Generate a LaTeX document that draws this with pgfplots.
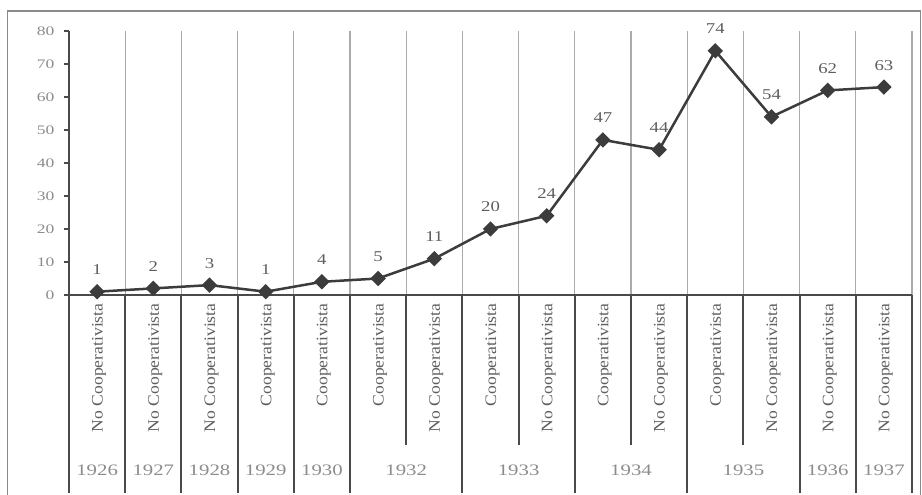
\documentclass[border=0pt]{standalone}
\usepackage{pgfplots}
\pgfplotsset{compat=1.18}
\usepackage{fontspec}
\setmainfont{Liberation Serif}
\newfontfamily\tickf[FakeStretch=1.35]{Liberation Serif}
\newfontfamily\valf[FakeStretch=1.25]{Liberation Serif}
\newfontfamily\catf[FakeStretch=1.1]{Liberation Serif}
\newfontfamily\yearf[FakeStretch=1.3]{Liberation Serif}

\definecolor{lineg}{HTML}{3C3C3C}
\definecolor{darkl}{HTML}{4A4A4A}
\definecolor{gridc}{HTML}{ABABAB}
\definecolor{framec}{HTML}{8A8A8A}
\definecolor{tickc}{HTML}{8C8C8C}
\definecolor{labc}{HTML}{5E5E5E}

\begin{document}
\begin{tikzpicture}[x=1pt,y=1pt]
\useasboundingbox (0,0) rectangle (922,495);
\draw[framec, line width=1.5pt] (7.5,-10) rectangle (920.5,484);
\begin{axis}[
  at={(69pt,200pt)}, anchor=south west,
  scale only axis, width=843pt, height=264pt,
  xmin=-0.5, xmax=14.5, ymin=0, ymax=80,
  /pgf/number format/assume math mode=true,
  axis lines*=left,
  axis line style={darkl, line width=2pt},
  clip=false,
  xtick={0,...,14},
  xticklabels={No Cooperativista,No Cooperativista,No Cooperativista,Cooperativista,Cooperativista,Cooperativista,No Cooperativista,Cooperativista,No Cooperativista,Cooperativista,No Cooperativista,Cooperativista,No Cooperativista,No Cooperativista,No Cooperativista},
  xticklabel style={rotate=90, anchor=east, font=\catf\fontsize{16}{18}\selectfont, text=labc, yshift=-2pt},
  x tick style={draw=none},
  minor xtick={0.5,1.5,...,13.5,14.5},
  xminorgrids,
  minor x grid style={gridc, line width=1.3pt},
  minor x tick style={draw=none},
  ytick={0,10,...,80},
  tick align=outside,
  major tick length=5pt,
  y tick style={darkl, line width=1.5pt},
  yticklabel style={font=\tickf\fontsize{13}{15}\selectfont, text=tickc, xshift=-6pt},
]
\addplot[lineg, line width=2.5pt, mark=square*, mark size=4.2pt,
  mark options={rotate=45, solid},
  nodes near coords,
  every node near coord/.append style={anchor=base, inner sep=0pt, yshift=17pt,
    font=\valf\fontsize{15}{17}\selectfont, text=labc}]
coordinates {(0,1) (1,2) (2,3) (3,1) (4,4) (5,5) (6,11) (7,20) (8,24) (9,47) (10,44) (11,74) (12,54) (13,62) (14,63)};
\draw[darkl, line width=2pt] (axis cs:-0.5,0) -- ++(-5pt,0pt);
\pgfplotsinvokeforeach{-0.5,0.5,1.5,2.5,3.5,4.5,6.5,8.5,10.5,12.5,13.5,14.5}{
  \draw[darkl, line width=2pt] (axis cs:#1,0) -- ++(0pt,-198pt);
}
\pgfplotsinvokeforeach{5.5,7.5,9.5,11.5}{
  \draw[darkl, line width=2pt] (axis cs:#1,0) -- ++(0pt,-150pt);
}
\foreach \x/\yr in {0/1926,1/1927,2/1928,3/1929,4/1930,5.5/1932,7.5/1933,9.5/1934,11.5/1935,13/1936,14/1937}{
  \edef\temp{\noexpand\node[font=\noexpand\yearf\noexpand\fontsize{16}{18}\noexpand\selectfont, text=tickc] at ([yshift=-175pt]axis cs:\x,0) {\yr};}
  \temp
}
\end{axis}
\end{tikzpicture}
\end{document}
